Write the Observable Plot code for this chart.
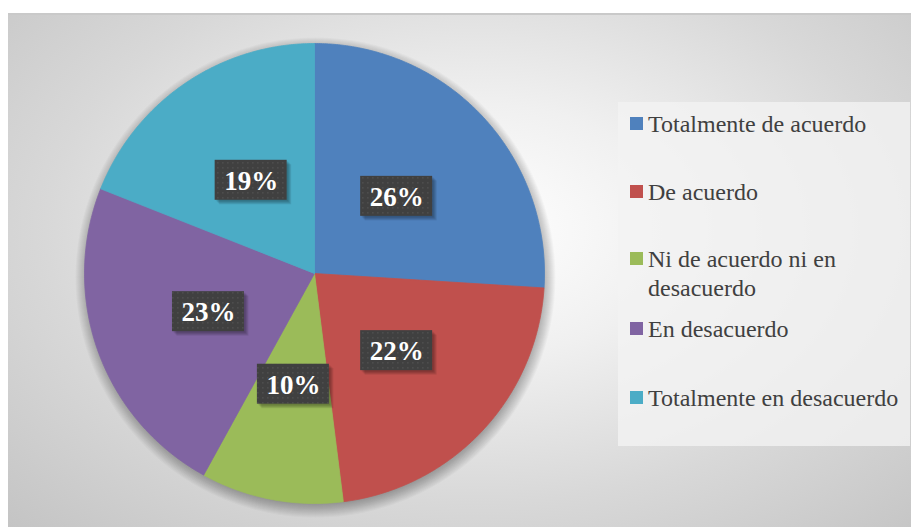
<!DOCTYPE html>
<html><head><meta charset="utf-8">
<script src="https://cdn.jsdelivr.net/npm/d3@7"></script>
<script src="https://cdn.jsdelivr.net/npm/@observablehq/plot@0.6"></script>
<style>
html,body{margin:0;padding:0;background:#fff;}
#wrap{position:relative;width:911px;height:527px;overflow:hidden;}
#frame{position:absolute;left:8px;top:13px;width:903px;height:514px;border-top:2px solid #c9c9c9;box-sizing:border-box;
 background:radial-gradient(ellipse farthest-corner at 52% 42%, #ffffff 0%, #f0f0f0 30%, #d8d8d8 65%, #c4c4c4 100%);}
#chart{position:absolute;left:0;top:0;}
#legend{position:absolute;left:618px;top:102px;width:292px;height:344px;background:rgba(243,243,243,0.8);
 font-family:"Liberation Serif","Times New Roman",serif;font-size:24px;color:#404040;}
.sw{position:absolute;left:12px;width:13px;height:13px;}
.lab{position:absolute;left:30px;white-space:nowrap;line-height:28px;}
</style></head>
<body>
<div id="wrap"><div id="frame"></div><div id="chart"></div><div id="legend"></div></div>
<script>
const categories = ["Totalmente de acuerdo","De acuerdo","Ni de acuerdo ni en desacuerdo","En desacuerdo","Totalmente en desacuerdo"];
const legendLines = [["Totalmente de acuerdo"],["De acuerdo"],["Ni de acuerdo ni en","desacuerdo"],["En desacuerdo"],["Totalmente en desacuerdo"]];
const values = [26, 22, 10, 23, 19];
const labels = ["26%","22%","10%","23%","19%"];
const colors = ["#4F81BD","#C0504D","#9BBB59","#8064A2","#4BACC6"];

const R = 230;
const arcs = d3.pie().sort(null)(values);
const slices = arcs.map((a, i) => {
  const pts = [{x: 0, y: 0}];
  const n = Math.max(2, Math.ceil((a.endAngle - a.startAngle) / (Math.PI / 360)));
  for (let k = 0; k <= n; k++) {
    const t = a.startAngle + (a.endAngle - a.startAngle) * k / n;
    pts.push({x: Math.sin(t), y: Math.cos(t)});
  }
  pts.push({x: 0, y: 0});
  return pts;
});
const lab = arcs.map((a, i) => {
  const m = (a.startAngle + a.endAngle) / 2;
  return {text: labels[i], x: 0.49 * Math.sin(m), y: 0.49 * Math.cos(m)};
});
const bw = 36 / R, bh = 20 / R;

// soft shadow layers (decoration only)
const pieShadow = d3.range(1, 15).map(k =>
  Plot.dot([{x: 0, y: 0}], {x: "x", y: "y", r: R - 4 + k, fill: "#000", fillOpacity: 0.022, dy: 4, dx: 1}));
const boxShadow = d3.range(0, 4).map(k =>
  Plot.rect(lab, {x1: d => d.x - bw, x2: d => d.x + bw, y1: d => d.y - bh, y2: d => d.y + bh,
    fill: "#000", fillOpacity: 0.09, dx: 1.5 + k, dy: 1.5 + k}));

const plot = Plot.plot({
  width: 911, height: 527,
  marginLeft: 84, marginRight: 367, marginTop: 43, marginBottom: 24,
  x: {domain: [-1, 1], axis: null},
  y: {domain: [-1, 1], axis: null},
  style: {background: "transparent", overflow: "visible"},
  marks: [
    ...pieShadow,
    ...slices.map((s, i) => Plot.line(s, {x: "x", y: "y", fill: colors[i], stroke: colors[i], strokeWidth: 0.8})),
    ...boxShadow,
    Plot.rect(lab, {x1: d => d.x - bw, x2: d => d.x + bw, y1: d => d.y - bh, y2: d => d.y + bh, fill: "url(#dots)"}),
    Plot.text(lab, {x: "x", y: "y", text: "text", fill: "white", fontSize: 27, fontWeight: "bold", fontFamily: "Liberation Serif, Times New Roman, serif", dy: 1})
  ]
});
document.getElementById("chart").appendChild(plot);
const svg = d3.select(plot);
const defs = svg.insert("defs", ":first-child");
const pat = defs.append("pattern").attr("id", "dots").attr("width", 5).attr("height", 5).attr("patternUnits", "userSpaceOnUse");
pat.append("rect").attr("width", 5).attr("height", 5).attr("fill", "#404040");
pat.append("rect").attr("x", 2).attr("y", 2).attr("width", 1.6).attr("height", 1.6).attr("fill", "#4d4d4d");

// legend
const baselines = [[132],[200],[267,296],[337],[406]];
const leg = document.getElementById("legend");
legendLines.forEach((lines, i) => {
  const sw = document.createElement("div");
  sw.className = "sw";
  sw.style.background = colors[i];
  sw.style.top = (baselines[i][0] - 102 - 15) + "px";
  leg.appendChild(sw);
  lines.forEach((t, j) => {
    const s = document.createElement("div");
    s.className = "lab";
    s.textContent = t;
    s.style.top = (baselines[i][j] - 102 - 22) + "px";
    leg.appendChild(s);
  });
});
</script>
</body></html>
